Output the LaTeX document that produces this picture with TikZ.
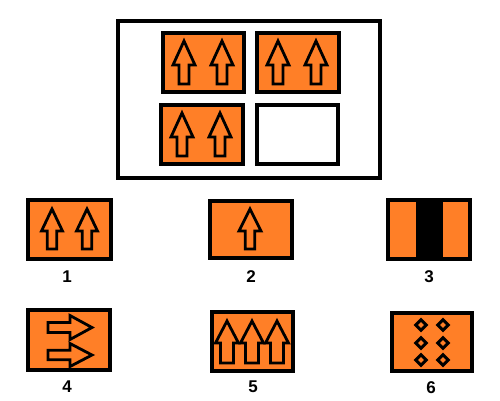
\documentclass[tikz,border=0pt]{standalone}
\usepackage{fontspec}
\setmainfont{Liberation Sans}
\definecolor{tileorange}{HTML}{FF7F27}
\tikzset{
  tile/.style={draw=black,line width=3.3pt,fill=tileorange},
  emptytile/.style={draw=black,line width=3.3pt,fill=white},
  frame/.style={draw=black,line width=3.3pt},
  arr/.style={draw=black,line width=2.8pt,fill=tileorange,line join=miter},
  dia/.style={draw=black,line width=3pt,line join=miter},
  lbl/.style={font=\fontsize{17}{17}\selectfont\bfseries,inner sep=0pt}
}
% up arrow: cx, top, headbase, bottom, head half width, shaft half width
\newcommand\UpArr[6]{%
  \draw[arr] (#1,#2) -- ({#1+#5},#3) -- ({#1+#6},#3) -- ({#1+#6},#4)
    -- ({#1-#6},#4) -- ({#1-#6},#3) -- ({#1-#5},#3) -- cycle;}
% right arrow: cy, left, headbase, tip, head half height, shaft half height
\newcommand\RtArr[6]{%
  \draw[arr] (#4,#1) -- (#3,{#1-#5}) -- (#3,{#1-#6}) -- (#2,{#1-#6})
    -- (#2,{#1+#6}) -- (#3,{#1+#6}) -- (#3,{#1+#5}) -- cycle;}
\newcommand\Dmd[2]{%
  \draw[dia] (#1,{#2-5.3}) -- ({#1+5.3},#2) -- (#1,{#2+5.3}) -- ({#1-5.3},#2) -- cycle;}
\begin{document}
\begin{tikzpicture}[x=1pt,y=-1pt]
\useasboundingbox (0,0) rectangle (500,400);
% outer frame
\draw[frame] (118,21) rectangle (380,178);
% matrix tiles
\draw[tile] (163,33) rectangle (244,92);
\UpArr{184}{41}{65}{84}{11}{5}
\UpArr{222}{41}{65}{84}{11}{5}
\draw[tile] (257,33) rectangle (339,92);
\UpArr{278}{41}{65}{84}{11}{5}
\UpArr{316}{41}{65}{84}{11}{5}
\draw[tile] (161,105) rectangle (243,164);
\UpArr{182}{113}{137}{156}{11}{5}
\UpArr{220}{113}{137}{156}{11}{5}
\draw[emptytile] (257,105) rectangle (338,164);
% option 1
\draw[tile] (28,200) rectangle (111,259);
\UpArr{52}{209}{231}{249}{10.5}{4.7}
\UpArr{87}{209}{231}{249}{10.5}{4.7}
\node[lbl] (l1) at (67,277) {1};
% option 2
\draw[tile] (210,201) rectangle (292,258);
\UpArr{250}{209}{231}{249}{11}{4.7}
\node[lbl] (l2) at (251,277) {2};
% option 3
\draw[tile] (388,200) rectangle (470,259);
\fill[black] (416,200) rectangle (443,259);
\node[lbl] (l3) at (429,277) {3};
% option 4
\draw[tile] (28,310) rectangle (110,370);
\RtArr{327.5}{48}{70}{92}{12}{5}
\RtArr{355}{48}{70}{92}{11.5}{4.7}
\node[lbl] (l4) at (67,387) {4};
% option 5
\draw[tile] (212,312) rectangle (293,371);
\UpArr{227}{321}{343}{363}{11.5}{6.5}
\UpArr{252}{321}{343}{363}{11.5}{6.5}
\UpArr{277}{321}{343}{363}{11.5}{6.5}
\node[lbl] (l5) at (253,387) {5};
% option 6
\draw[tile] (392,313) rectangle (472,371);
\Dmd{421}{325}\Dmd{443}{325}
\Dmd{421}{343}\Dmd{443}{343}
\Dmd{421}{360}\Dmd{443}{360}
\node[lbl] (l6) at (431,388) {6};
\end{tikzpicture}
\end{document}
